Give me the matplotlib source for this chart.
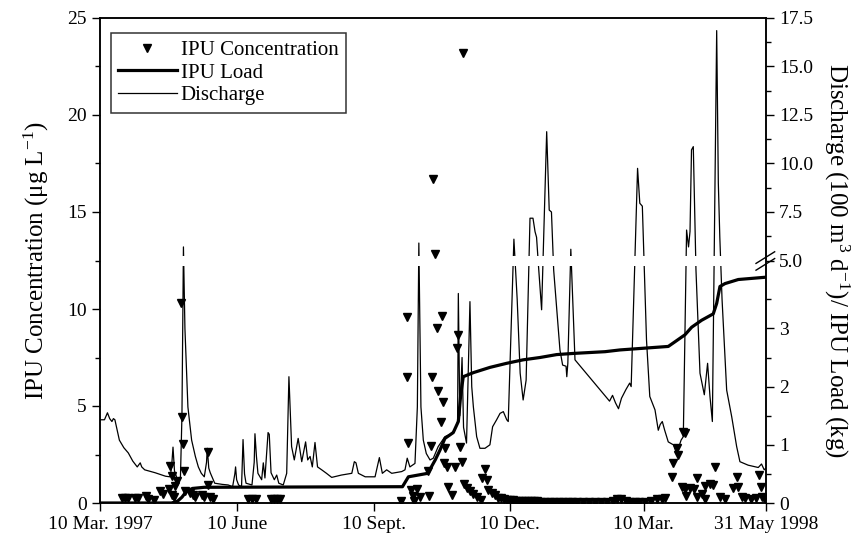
import numpy as np
import matplotlib
matplotlib.use("Agg")
import matplotlib.pyplot as plt
import matplotlib.transforms as mtransforms

plt.rcParams['font.family'] = ['Liberation Serif', 'DejaVu Serif']
plt.rcParams['mathtext.fontset'] = 'custom'
plt.rcParams['mathtext.rm'] = 'Liberation Serif'
plt.rcParams['mathtext.it'] = 'Liberation Serif:italic'

# x = days since 10 Mar. 1997
tick_days = [0, 92, 184, 275, 365, 447]
tick_labels = ['10 Mar. 1997', '10 June', '10 Sept.', '10 Dec.', '10 Mar.', '31 May 1998']

# discharge (100 m3/d), values >= 5 are on the upper (broken) part of the right scale
q_day = [0, 3, 5, 6.5, 8, 9, 10, 13, 16, 19, 22, 25, 27, 28, 30, 37, 44, 47, 48, 49, 50, 52, 54,
         55, 56, 57, 59, 61.5, 64, 66, 68, 70, 71.5, 72, 73, 74, 77, 82, 86, 89, 90.5, 91, 91.7,
         93, 95, 96, 97, 98, 102, 103.5, 104, 105, 106, 108.5, 109.6, 110.7, 112, 112.8, 113.6,
         114.8, 117, 118.6, 120, 123, 125.3, 126.8, 128.6, 130.4, 133, 135.4, 138, 139.4, 141,
         142.5, 144.3, 146, 148.8, 152, 155.5, 162, 169, 170.7, 171.8, 173.4, 178, 184.6, 187.5,
         189.5, 192.4, 195.8, 202.5, 204.7, 206.2, 208, 211.4, 213, 214, 215.4, 217, 219, 221.5,
         223.7, 227, 231.5, 235, 238, 240, 240.5, 241.5, 243, 244, 246, 248.3, 249.5, 250.6,
         252.8, 255, 258.4, 261.7, 263.5, 266.2, 268.5, 270.7, 273, 274, 277.8, 280, 282, 284,
         286, 288.6, 290.6, 292, 293, 294.5, 296.4, 299.8, 301.5, 303, 304.5, 308.7, 310.5,
         312.8, 313.3, 314, 316, 318, 318.8, 342, 344, 346, 348, 350, 353, 355.5, 356.5, 360.8,
         362.3, 364, 366.8, 369, 372.5, 374.7, 376, 377.4, 379, 381.4, 384.8, 387, 390, 391.5,
         393.7, 395, 396, 397, 398.2, 400, 402.7, 405.6, 407.8, 409.4, 411, 413.9, 415, 416,
         417.5, 420.6, 424, 427.3, 429.5, 435, 441.8, 444, 445.8, 447]
q_val = [1.43, 1.43, 1.55, 1.45, 1.40, 1.45, 1.43, 1.08, 0.95, 0.86, 0.72, 0.62, 0.69, 0.62, 0.57,
         0.52, 0.46, 0.45, 0.6, 0.96, 0.55, 0.40, 0.45, 1.5, 5.7, 3.0, 1.65, 1.08, 0.80, 0.62,
         0.51, 0.45, 0.7, 0.94, 0.6, 0.52, 0.34, 0.32, 0.31, 0.28, 0.5, 0.62, 0.4, 0.31, 0.28,
         1.09, 0.5, 0.34, 0.31, 0.7, 1.19, 0.8, 0.51, 0.40, 0.69, 0.43, 0.9, 1.21, 1.18, 0.52,
         0.40, 0.48, 0.34, 0.31, 0.51, 2.17, 0.97, 0.74, 1.11, 0.71, 1.05, 0.74, 0.80, 0.62,
         1.04, 0.62, 0.57, 0.51, 0.44, 0.48, 0.51, 0.71, 0.69, 0.51, 0.45, 0.45, 0.78, 0.51,
         0.57, 0.51, 0.54, 0.57, 0.77, 0.62, 0.68, 1.65, 5.9, 1.65, 1.08, 0.85, 0.74, 0.77,
         0.97, 1.14, 1.18, 1.25, 1.4, 3.6, 1.5, 2.5, 1.3, 1.03, 3.46, 2.0, 1.65, 1.14, 0.94,
         0.94, 1.0, 1.31, 1.43, 1.54, 1.57, 1.43, 1.40, 6.1, 3.5, 2.23, 1.77, 2.11, 7.18, 7.18,
         6.48, 6.2, 4.0, 3.32, 11.64, 7.6, 7.5, 4.0, 2.63, 2.37, 2.35, 2.17, 2.4, 5.58, 3.0,
         2.46, 1.75, 1.85, 1.72, 1.62, 1.8, 1.95, 2.06, 2.0, 9.75, 7.95, 7.8, 2.8, 1.83, 1.60,
         1.25, 1.35, 1.40, 1.25, 1.05, 1.00, 0.85, 1.08, 1.14, 6.57, 5.7, 6.5, 10.7, 10.87, 4.0,
         2.23, 1.86, 2.40, 1.83, 1.40, 16.85, 9.0, 6.2, 3.5, 1.94, 1.48, 0.97, 0.71, 0.65, 0.61,
         0.67, 0.57, 0.6]

# cumulative IPU load (kg)
load_day = [0, 48, 52, 55, 58, 62, 70, 203, 207, 220, 225, 228.2, 231.5, 237.1, 240.5, 242,
            243.8, 250.6, 261.7, 272.9, 284, 295.3, 306.5, 317.7, 339, 349, 381.4, 385.9,
            392.6, 397.1, 403.8, 411.6, 413.9, 416.1, 419.5, 428.4, 447]
load_val = [0.0, 0.0, 0.03, 0.1, 0.2, 0.25, 0.27, 0.28, 0.45, 0.51, 0.74, 0.91, 1.11, 1.21,
            1.40, 1.83, 2.17, 2.24, 2.33, 2.40, 2.46, 2.50, 2.55, 2.57, 2.60, 2.63, 2.69, 2.77,
            2.89, 3.02, 3.14, 3.25, 3.43, 3.72, 3.77, 3.84, 3.88]

# IPU concentration (ug/L)
conc_day = [15, 17, 19, 23.5, 25.5, 31, 32, 36, 40, 42.5, 46, 47, 48, 48.5, 50, 50.3, 52, 54.4,
            55.3, 56, 56.6, 57, 60.4, 62.6, 64, 68.7, 70, 72.3, 72.7, 74, 75.6, 99.5, 102,
            104.6, 115, 117, 118.6, 121,
            202, 205.8, 206, 207, 209, 210, 211, 212.5, 214.8, 220, 220.5, 222, 222.6, 223.7,
            224.8, 226, 226.6, 228.9, 229.5, 230.4, 230.8, 231.5, 232.7, 233.8, 236, 238.3,
            239.4, 240.5, 241.6, 242.8, 243.8, 244, 246, 248, 250.6, 252.8, 256, 256.2, 258.4,
            259.5, 260.6, 262.9, 265, 267.3,
            269, 271, 273, 275, 277, 279, 281, 283, 285, 287, 289, 291, 293, 296, 299, 302, 305,
            308, 311, 314, 317, 320, 324, 328, 332, 336, 340, 344, 347, 350, 353, 356, 359, 362,
            366, 370, 374, 377, 379,
            383.7, 384.8, 387, 388, 390.4, 391, 392.6, 392.8, 393, 396, 399, 400.4, 401, 403.8,
            405.8, 406, 409.4, 411.6, 412.8, 416, 419.5, 425, 427.3, 428.4, 430.6, 432.8, 437,
            440, 442.3, 443.6, 444, 445.5]
conc_val = [0.24, 0.24, 0.24, 0.24, 0.24, 0.36, 0.2, 0.15, 0.64, 0.46, 0.71, 1.9, 1.39, 0.41,
            0.3, 0.88, 1.15, 10.33, 4.45, 3.04, 1.67, 0.64, 0.5, 0.41, 0.3, 0.41, 0.3, 2.65,
            0.93, 0.3, 0.2, 0.2, 0.2, 0.2, 0.2, 0.2, 0.2, 0.2,
            0.1, 9.6, 6.51, 3.11, 0.67, 0.35, 0.1, 0.7, 0.33, 1.67, 0.36, 2.94, 6.51, 16.69,
            12.84, 9.0, 5.79, 4.19, 9.64, 5.22, 2.05, 2.82, 1.87, 0.84, 0.41, 1.84, 7.97, 8.66,
            2.9, 2.13, 23.18, 1.0, 0.76, 0.6, 0.45, 0.3, 0.15, 1.27, 1.74, 1.19, 0.67, 0.52,
            0.4, 0.28,
            0.25, 0.2, 0.18, 0.15, 0.15, 0.12, 0.12, 0.1, 0.1, 0.1, 0.08, 0.08, 0.08, 0.06, 0.06,
            0.05, 0.05, 0.05, 0.05, 0.05, 0.05, 0.05, 0.05, 0.05, 0.05, 0.05, 0.05, 0.1, 0.2,
            0.2, 0.1, 0.05, 0.05, 0.05, 0.05, 0.1, 0.2, 0.2, 0.25,
            1.36, 2.08, 2.82, 2.47, 0.81, 3.65, 3.62, 0.7, 0.36, 0.76, 0.7, 1.27, 0.3, 0.46, 0.2,
            0.88, 1.0, 0.93, 1.87, 0.33, 0.2, 0.76, 1.32, 0.8, 0.3, 0.25, 0.2, 0.25, 1.44, 0.84,
            0.3, 0.25]


def to_left(v):
    # right scale: 0-4 at 3 left units per unit, above the break 5.0 -> 12.5 at 1:1
    v = np.asarray(v, dtype=float)
    return np.where(v <= 4.1, 3 * v, v + 7.5)


fig = plt.figure(figsize=(8.64, 5.44), dpi=100)
ax = fig.add_axes([100 / 864, 41 / 544, 666 / 864, 485 / 544])

ax.plot(q_day, to_left(q_val), color='black', lw=0.9, zorder=2, label='Discharge')
ax.plot(load_day, to_left(load_val), color='black', lw=2.3, zorder=2.2, label='IPU Load')
ax.plot(conc_day, conc_val, linestyle='none', marker='v', ms=6.3, color='black',
        zorder=3, label='IPU Concentration')

# gap for the axis break
ax.axhspan(12.22, 12.72, xmin=0.003, xmax=0.997, color='white', lw=0, zorder=2.6)

ax.set_xlim(0, 447)
ax.set_ylim(0, 25)
ax.set_xticks(tick_days)
ax.set_xticklabels(tick_labels)
ax.set_yticks([0, 5, 10, 15, 20, 25])
ax.set_yticks(np.arange(2.5, 25, 5), minor=True)
ax.tick_params(axis='both', which='major', direction='out', length=6, width=1, labelsize=14)
ax.tick_params(axis='y', which='minor', direction='out', length=3.5, width=1)
ax.set_ylabel('IPU Concentration (μg L$^{-1}$)', fontsize=18, labelpad=12)
for s in ax.spines.values():
    s.set_linewidth(1.1)

ax2 = ax.twinx()
ax2.set_ylim(0, 25)
ax2.set_yticks([0, 3, 6, 9, 12.5, 15, 17.5, 20, 22.5, 25])
ax2.set_yticklabels(['0', '1', '2', '3', '5.0', '7.5', '10.0', '12.5', '15.0', '17.5'])
ax2.set_yticks([1.5, 4.5, 7.5, 10.5, 13.75, 16.25, 18.75, 21.25, 23.75], minor=True)
ax2.tick_params(axis='y', which='major', direction='out', length=6, width=1, labelsize=14)
ax2.tick_params(axis='y', which='minor', direction='out', length=3.5, width=1)
ax2.set_ylabel('Discharge (100 m$^{3}$ d$^{-1}$)/ IPU Load (kg)', fontsize=18,
               rotation=270, labelpad=27)
for s in ax2.spines.values():
    s.set_linewidth(1.1)

# break mark on right spine
trans = mtransforms.blended_transform_factory(ax2.transAxes, ax2.transData)
for off in (0.0, 0.35):
    ax2.plot([0.985, 1.013], [12.0 + off, 12.6 + off], color='black', lw=1.0,
             transform=trans, clip_on=False)

h, l = ax.get_legend_handles_labels()
order = [2, 1, 0]
leg = ax.legend([h[i] for i in order], [l[i] for i in order], loc='upper left',
                bbox_to_anchor=(0.0165, 0.969), borderaxespad=0, fontsize=15,
                frameon=True, fancybox=False, edgecolor='black', handlelength=2.8,
                handletextpad=0.2, labelspacing=0.15, borderpad=0.35)
leg.get_frame().set_linewidth(1.1)

fig.savefig('out.png', dpi=100)
